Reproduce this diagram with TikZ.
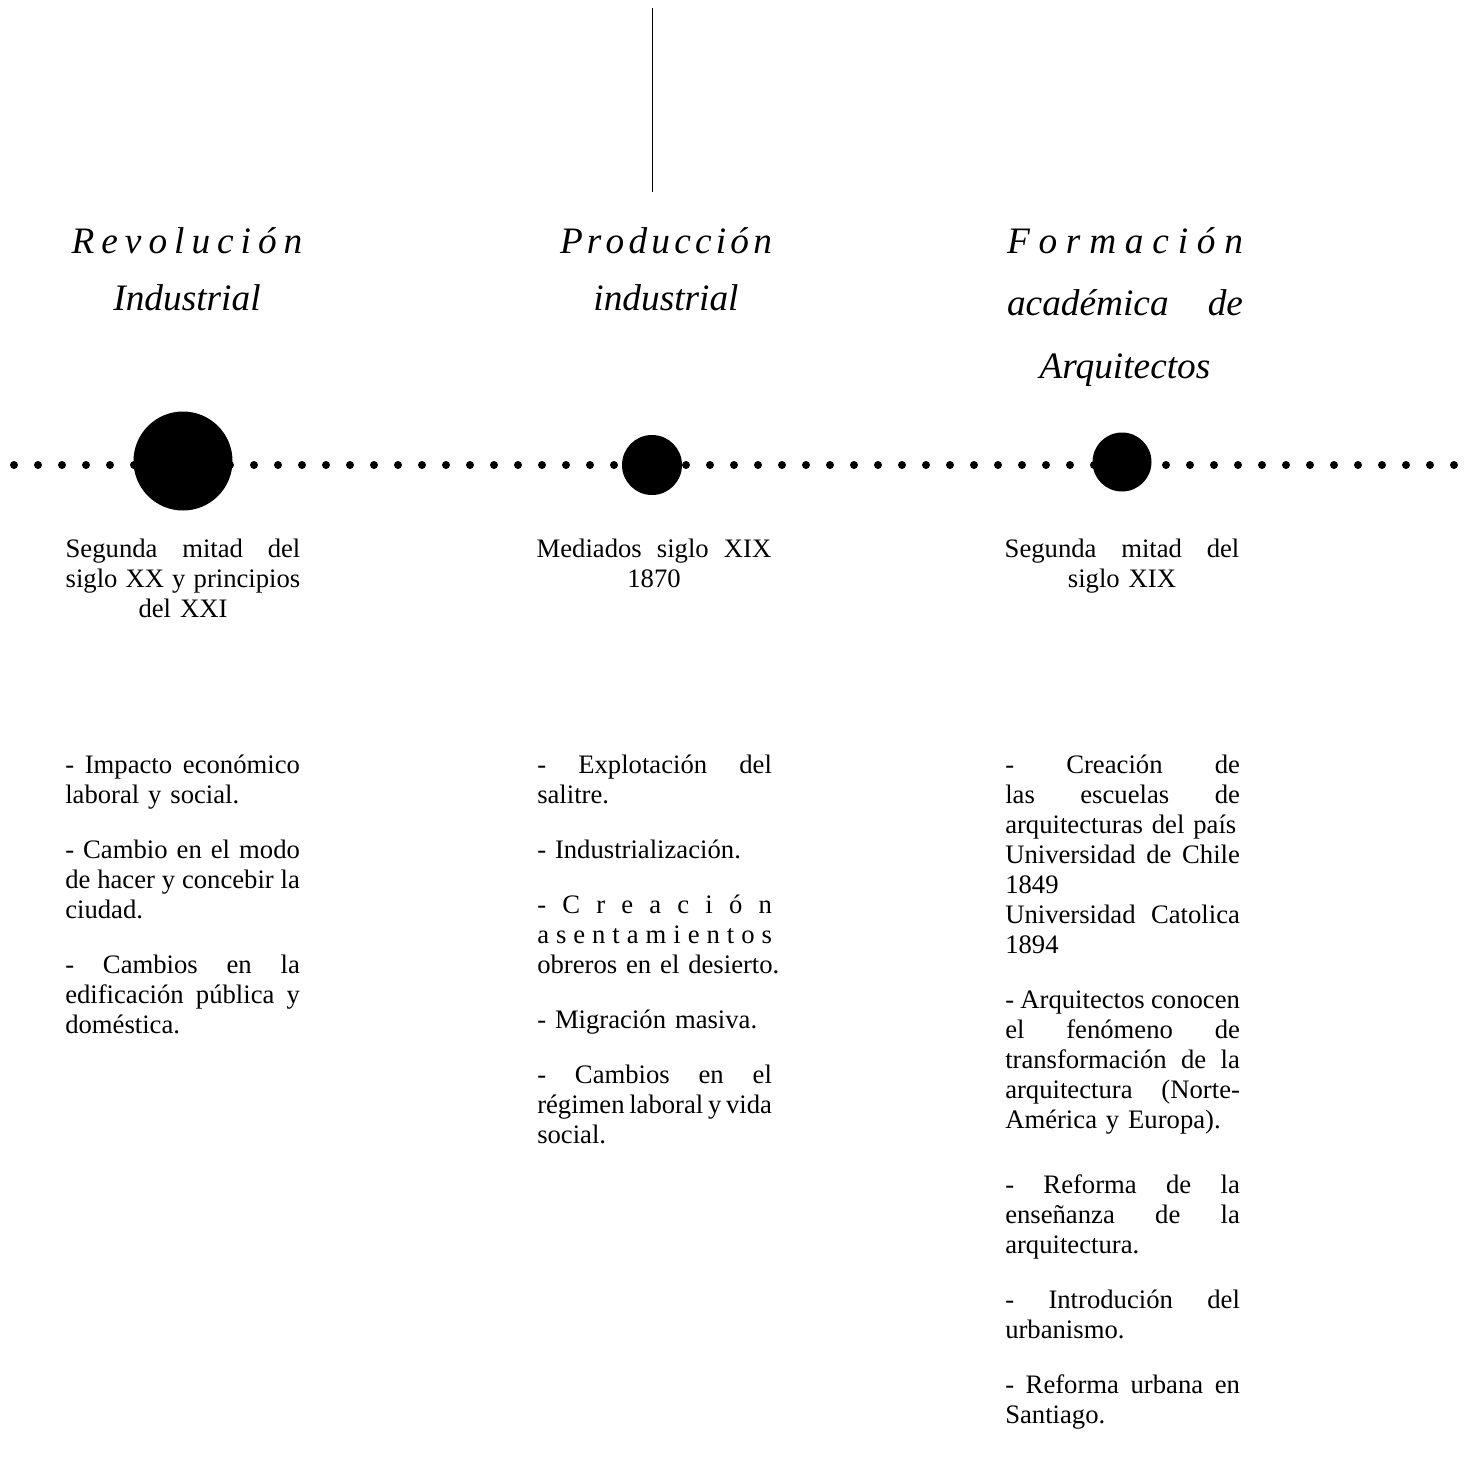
\documentclass[tikz,border=0pt]{standalone}
\usepackage{fontspec}
\setmainfont{Liberation Serif}
\newcommand{\jl}[2][176pt]{\makebox[#1][s]{\spaceskip=0pt\xspaceskip=0pt #2}}
\newcommand{\ls}[2]{\makebox[#1][s]{\spaceskip=0pt plus 1fil #2}}
\newcommand{\pgap}{\\[18.75pt]}

\tikzset{
  body/.style={anchor=base west, text width=190pt, inner sep=0pt, align=left, font=\fontsize{20}{22.5}\selectfont},
  datebox/.style={anchor=base, text width=176pt, inner sep=0pt, align=center, font=\fontsize{20}{22.5}\selectfont},
  heading/.style={anchor=base, text width=200pt, inner sep=0pt, align=center, font=\fontsize{28}{43}\selectfont\itshape},
  bead/.style={fill=black},
}

\begin{document}
\begin{tikzpicture}[x=0.75pt,y=0.75pt,yscale=-1,xscale=1]
\useasboundingbox (0,0) rectangle (1467,1482);

%Straight Lines
\draw [line width=0.6pt] (652,8) -- (652,192) ;

%Dotted time line
\foreach \i in {0,...,60} \fill [bead] (14+24*\i,465) circle (4) ;

%Circles
\fill [bead] (183,461) circle (49.5) ;
\fill [bead] (652,465) circle (30) ;
\fill [bead] (1122,462) circle (29.5) ;

%Headings
\node [heading] (revo) at (187,253) {\ls{173pt}{R e v o l u c i ó n}\\Industrial};
\node [heading] (prod) at (666,253) {\ls{159pt}{P r o d u c c i ó n}\\industrial};
\node [heading, font=\fontsize{28}{47}\selectfont\itshape] (form) at (1125,253) {\ls{177pt}{F o r m a c i ó n}\\\jl[177pt]{académica de}\\Arquitectos};

%Dates
\node [datebox] (revodate) at (183,557) {\jl{Segunda mitad del}\\\jl{siglo XX y principios}\\del XXI};
\node [datebox] (proddate) at (654,557) {\jl{Mediados siglo XIX}\\1870};
\node [datebox] (formdate) at (1122,557) {\jl{Segunda mitad del}\\siglo XIX};

%Lists
\node [body] (revolist) at (65,773) {\jl{- Impacto económico}\\laboral y social.\pgap
\jl{- Cambio en el modo}\\\jl{de hacer y concebir la}\\ciudad.\pgap
\jl{- Cambios en la}\\\jl{edificación pública y}\\doméstica.};

\node [body] (prodlist) at (537,773) {\jl{- Explotación del}\\salitre.\pgap
- Industrialización.\pgap
\ls{176pt}{- C r e a c i ó n}\\\ls{176pt}{a s e n t a m i e n t o s}\\obreros en el desierto.\pgap
- Migración masiva.\pgap
\jl{- Cambios en el}\\\jl{régimen laboral y vida}\\social.};

\node [body] (formlist) at (1005,773) {\jl{- Creación de}\\\jl{las escuelas de}\\arquitecturas del país\\
\jl{Universidad de Chile}\\1849\\\jl{Universidad Catolica}\\1894\pgap
\jl{- Arquitectos conocen}\\\jl{el fenómeno de}\\\jl{transformación de la}\\\jl{arquitectura (Norte-}\\América y Europa).\\[26.25pt]
\jl{- Reforma de la}\\\jl{enseñanza de la}\\arquitectura.\pgap
\jl{- Introdución del}\\urbanismo.\pgap
\jl{- Reforma urbana en}\\Santiago.};

\end{tikzpicture}
\end{document}
